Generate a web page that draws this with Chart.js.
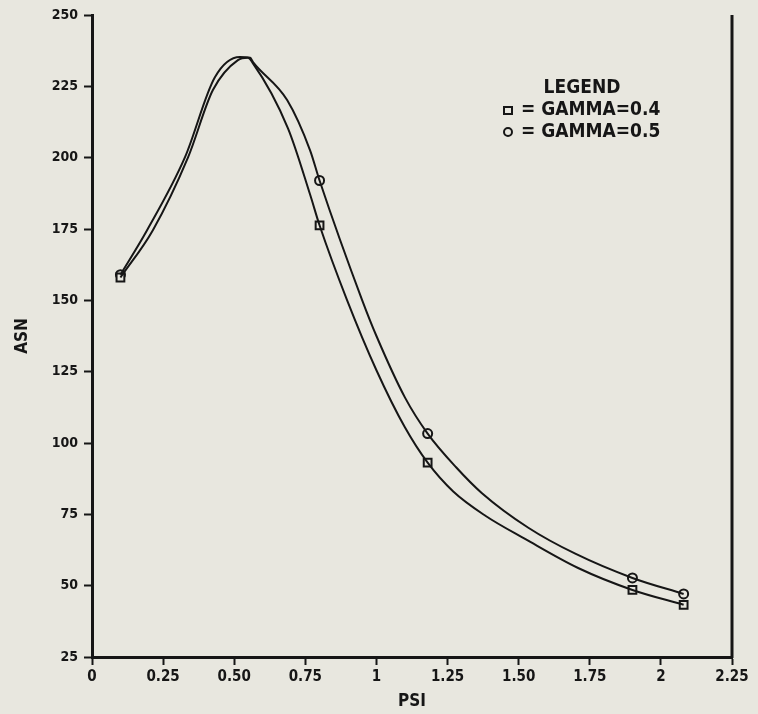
<!DOCTYPE html>
<html>
<head>
<meta charset="utf-8">
<script src="https://cdn.jsdelivr.net/npm/chart.js@4.4.1/dist/chart.umd.min.js"></script>
<style>
html,body{margin:0;padding:0;background:#e8e7df;}
#wrap{width:758px;height:714px;position:relative;}
</style>
</head>
<body>
<div id="wrap"><canvas id="c" width="758" height="714"></canvas></div>
<script>
// ---- data ----
const xTickLabels = ["0","0.25","0.50","0.75","1","1.25","1.50","1.75","2","2.25"];
const legendTitle = "LEGEND";
const seriesNames = ["= GAMMA=0.4", "= GAMMA=0.5"];

const psiGamma04 = [0.10,0.214,0.338,0.425,0.513,0.548,0.563,0.689,0.767,0.80,0.897,1.00,1.10,1.18,1.27,1.383,1.524,1.709,1.90,2.08];
const asnGamma04 = [158,174.6,200.2,223.7,234.2,235,233.5,210.3,187,176.3,150,125.5,105.5,93.1,83,74.5,66.3,56.2,48.5,43.3];

const psiGamma05 = [0.10,0.193,0.327,0.432,0.520,0.556,0.566,0.686,0.767,0.80,0.95,1.00,1.10,1.18,1.28,1.37,1.534,1.699,1.90,2.08];
const asnGamma05 = [159,174.5,200.2,228.2,235.3,235,233.5,220.2,202.5,192,150,137.5,116,103.3,91.5,82.5,70.3,61.2,52.7,47.1];

const markPsi = [0.10,0.80,1.18,1.90,2.08];
const markGamma04 = [158,176.3,93.1,48.5,43.3];
const markGamma05 = [159,192,103.3,52.7,47.1];

// ---- build ----
const INK = '#161616';
const PAPER = '#e8e7df';
const FAMILY = '"DejaVu Sans Condensed", "DejaVu Sans", sans-serif';
const toXY = (xs, ys) => xs.map((x, i) => ({x: x, y: ys[i]}));

const paperPlugin = {
  id: 'paper',
  beforeDraw(chart) {
    const {ctx, width, height} = chart;
    ctx.save();
    ctx.fillStyle = PAPER;
    ctx.fillRect(0, 0, width, height);
    ctx.restore();
  },
  afterDraw(chart) {
    const {ctx, chartArea: a} = chart;
    ctx.save();
    ctx.strokeStyle = INK;
    ctx.lineWidth = 3;
    ctx.beginPath();
    ctx.moveTo(a.right, a.top);
    ctx.lineTo(a.right, a.bottom + 1);
    ctx.stroke();

    // legend block
    ctx.fillStyle = INK;
    ctx.font = 'bold 19px ' + FAMILY;
    ctx.textBaseline = 'middle';
    ctx.textAlign = 'center';
    ctx.fillText(legendTitle, 582, 88);
    ctx.textAlign = 'left';
    ctx.fillText(seriesNames[0], 521, 110);
    ctx.fillText(seriesNames[1], 521, 132);
    ctx.lineWidth = 2;
    ctx.strokeRect(504, 107, 8, 7);
    ctx.beginPath();
    ctx.arc(508, 132, 4, 0, Math.PI * 2);
    ctx.stroke();
    ctx.restore();
  }
};

const lineStyle = {
  borderColor: INK,
  borderWidth: 2,
  pointRadius: 0,
  pointHoverRadius: 0,
  fill: false,
  cubicInterpolationMode: 'monotone',
  showLine: true
};

const markStyle = {
  showLine: false,
  borderColor: INK,
  backgroundColor: PAPER,
  pointBorderWidth: 2,
  pointBorderColor: INK,
  pointBackgroundColor: PAPER
};

new Chart(document.getElementById('c'), {
  type: 'scatter',
  data: {
    datasets: [
      Object.assign({label: 'GAMMA=0.4 curve', data: toXY(psiGamma04, asnGamma04)}, lineStyle),
      Object.assign({label: 'GAMMA=0.5 curve', data: toXY(psiGamma05, asnGamma05)}, lineStyle),
      Object.assign({label: 'GAMMA=0.4', data: toXY(markPsi, markGamma04), pointStyle: 'rect', pointRadius: 5.5}, markStyle),
      Object.assign({label: 'GAMMA=0.5', data: toXY(markPsi, markGamma05), pointStyle: 'circle', pointRadius: 4.5}, markStyle)
    ]
  },
  options: {
    responsive: false,
    animation: false,
    devicePixelRatio: 1,
    layout: {padding: {left: 0, right: 26, top: 15, bottom: 0}},
    plugins: {legend: {display: false}, tooltip: {enabled: false}},
    scales: {
      x: {
        type: 'linear',
        min: 0, max: 2.25,
        afterFit(scale) { scale.height = 57; },
        ticks: {
          stepSize: 0.25,
          color: INK,
          padding: 3,
          maxRotation: 0,
          autoSkip: false,
          font: {family: FAMILY, size: 15, weight: 'bold'},
          callback: (v, i) => xTickLabels[i]
        },
        grid: {display: true, drawOnChartArea: false, drawTicks: true, tickLength: 8, tickColor: INK, tickWidth: 2},
        border: {display: true, color: INK, width: 3},
        title: {display: true, text: 'PSI', color: INK, font: {family: FAMILY, size: 17, weight: 'bold'}, padding: {top: 0, bottom: 2}}
      },
      y: {
        type: 'linear',
        min: 25, max: 250,
        afterFit(scale) { scale.width = 92; },
        ticks: {
          stepSize: 25,
          color: INK,
          padding: 6,
          font: {family: FAMILY, size: 14, weight: 'bold'}
        },
        grid: {display: true, drawOnChartArea: false, drawTicks: true, tickLength: 8, tickColor: INK, tickWidth: 2},
        border: {display: true, color: INK, width: 3},
        title: {display: true, text: 'ASN', color: INK, font: {family: FAMILY, size: 17, weight: 'bold'}, padding: {top: 12, bottom: 0}}
      }
    }
  },
  plugins: [paperPlugin]
});
</script>
</body>
</html>
